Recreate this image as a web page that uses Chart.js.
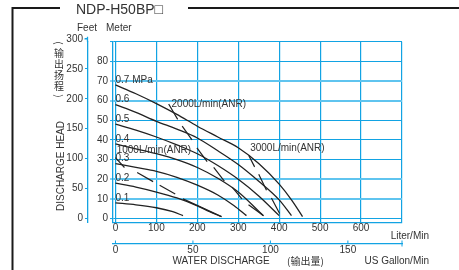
<!DOCTYPE html>
<html><head><meta charset="utf-8">
<script src="https://cdn.jsdelivr.net/npm/chart.js@4.4.1/dist/chart.umd.min.js"></script>
<style>html,body{margin:0;padding:0;background:#fff;}canvas{display:block}</style>
</head><body>
<canvas id="c" width="459" height="270"></canvas>
<script>
// ---- data (flow in L/min, head in m) ----
const pressureNames = ['0.7 MPa','0.6','0.5','0.4','0.3','0.2','0.1'];
const curve07 = [[0,68],[50,63.5],[100,58.5],[150,53],[200,47],[250,41.5],[300,36],[350,28],[400,17.5],[430,9.5],[457,1]];
const curve06 = [[0,58],[50,54],[100,49.5],[150,45.5],[200,41],[250,34.5],[300,27.5],[350,19],[400,9.5],[430,1.5]];
const curve05 = [[0,48],[50,45],[100,41.5],[150,37.5],[200,33],[250,27],[300,20],[350,11.5],[400,1.5]];
const curve04 = [[0,38],[50,35.5],[100,33],[150,30],[200,26],[250,20.5],[300,13.5],[361,1.5]];
const curve03 = [[0,28],[50,26],[100,24],[150,21],[200,17],[250,12],[290,6.5],[320,1.5]];
const curve02 = [[0,18],[50,16],[100,13.5],[150,10.5],[200,6.5],[230,3.5],[259,1]];
const curve01 = [[0,8],[50,7],[100,5.5],[140,3.5],[165,1.5]];
const airNames = ['1000L/min(ANR)','2000L/min(ANR)','3000L/min(ANR)'];
const air1000 = [[0,31],[22,26],null,[53,23.4],[92,18.8],null,[108,17],[146,12.5],null,[165,10],[259,1]];
const air2000 = [[130,58.3],[152,50.5],null,[163,47],[187,40],null,[199,36],[224,29],null,[240,26],[266,19],null,[285,16],[309,10],null,[325,7],[362,1.4]];
const air3000 = [[326,32],[340,26.3],null,[350,22.5],[369,14.4],null,[381,10.5],[401,2.6]];
const literTicks = [0,100,200,300,400,500,600,700];
const literLabels = ['0','100','200','300','400','500','600',''];
const meterTicks = [0,10,20,30,40,50,60,70,80,90];
const meterLabels = ['0','10','20','30','40','50','60','70','80',''];
const feetTicks = [0,50,100,150,200,250,300];
const gallonTicks = [0,50,100,150];

// ---- chart ----
const M2FT = 3.28084, GAL = 3.78541;
const XMIN = -6, XMAX = 700, YMIN = -2, YMAX = 90;
const BLUE = '#12a3e3', PALE = '#5fc4ef', INK = '#222', TXT = '#333';
const FONT = '"Liberation Sans", Arial, sans-serif';

function toXY(arr){
  const out=[]; let last=0;
  arr.forEach(p=>{ if(p===null){ out.push({x:last,y:null}); } else { out.push({x:p[0],y:p[1]}); last=p[0]; } });
  return out;
}
const curves=[curve07,curve06,curve05,curve04,curve03,curve02,curve01];
const airs=[air1000,air2000,air3000];
const datasets=[];
curves.forEach((c,i)=>datasets.push({label:pressureNames[i],data:toXY(c),borderColor:INK,borderWidth:1.3,pointRadius:0,cubicInterpolationMode:'monotone',fill:false}));
airs.forEach((c,i)=>datasets.push({label:airNames[i],data:toXY(c),borderColor:INK,borderWidth:1.2,pointRadius:0,tension:0,spanGaps:false,fill:false}));

function setTicks(list){ return s=>{ s.ticks = list.map(v=>({value:v})); }; }

const deco = {
  id:'deco',
  afterDraw(chart){
    const ctx=chart.ctx, xs=chart.scales.x, ys=chart.scales.y, yf=chart.scales.yf, xg=chart.scales.xg;
    ctx.save();
    // frame
    ctx.strokeStyle='#1a1a1a'; ctx.lineWidth=2;
    ctx.beginPath(); ctx.moveTo(12.5,270); ctx.lineTo(12.5,8); ctx.lineTo(60,8); ctx.stroke();
    ctx.beginPath(); ctx.moveTo(188,8); ctx.lineTo(459,8); ctx.stroke();
    // title
    ctx.fillStyle=TXT; ctx.textBaseline='middle'; ctx.textAlign='left';
    ctx.font='14px '+FONT; ctx.fillText('NDP-H50BP\u25A1',76,10);
    // axis unit labels
    ctx.font='10px '+FONT;
    ctx.fillText('Feet',77,28.5);
    ctx.fillText('Meter',106,28.5);
    ctx.textAlign='right';
    ctx.fillText('Liter/Min',429,236);
    ctx.fillText('US Gallon/Min',429,261);
    ctx.textAlign='left';
    ctx.fillText('WATER DISCHARGE',172.5,261);
    ctx.font='10px "Noto Sans CJK SC", '+FONT;
    ctx.fillText('(\u8F93\u51FA\u91CF)',287,261);
    // vertical titles
    ctx.save(); ctx.translate(61,166); ctx.rotate(-Math.PI/2);
    ctx.textAlign='center'; ctx.font='10px '+FONT; ctx.fillText('DISCHARGE HEAD',0,0); ctx.restore();
    ctx.textAlign='center'; ctx.font='10px "Noto Sans CJK SC", sans-serif';
    ['\u8F93','\u51FA','\u626C','\u7A0B'].forEach((ch,i)=>ctx.fillText(ch,59,53+i*11));
    [['(',43],[')',96]].forEach(([ch,y])=>{ctx.save();ctx.translate(59,y);ctx.rotate(Math.PI/2);ctx.fillText(ch,0,0);ctx.restore();});
    // feet axis extension to 300 ft
    ctx.strokeStyle=BLUE; ctx.lineWidth=1.3;
    const fx=Math.round(yf.right)-0.5, f300=yf.getPixelForValue(300);
    ctx.beginPath(); ctx.moveTo(fx,yf.top); ctx.lineTo(fx,f300-2); ctx.moveTo(fx-3,f300); ctx.lineTo(fx,f300); ctx.stroke();
    // gallon ticks (inward)
    ctx.lineWidth=1;
    gallonTicks.forEach(v=>{const px=xg.getPixelForValue(v); ctx.beginPath(); ctx.moveTo(px,xg.top); ctx.lineTo(px,xg.top-3); ctx.stroke();});
    ctx.beginPath(); ctx.moveTo(xg.right,xg.top-3); ctx.lineTo(xg.right,xg.top+3); ctx.stroke();
    // curve labels
    ctx.fillStyle=TXT; ctx.textAlign='left'; ctx.font='10px '+FONT;
    const heads=[70.5,60.5,50.5,40.5,30.8,20.5,10.5];
    pressureNames.forEach((t,i)=>ctx.fillText(t,xs.getPixelForValue(0),ys.getPixelForValue(heads[i])));
    const airAt=[[3,35],[137,58.4],[329,35.7]];
    airNames.forEach((t,i)=>ctx.fillText(t,xs.getPixelForValue(airAt[i][0]),ys.getPixelForValue(airAt[i][1])));
    ctx.restore();
  }
};

new Chart(document.getElementById('c'),{
  type:'line',
  data:{datasets},
  options:{
    responsive:false, animation:false, devicePixelRatio:1,
    layout:{padding:{left:60,right:57,top:41.7,bottom:6.5}},
    plugins:{legend:{display:false},tooltip:{enabled:false}},
    scales:{
      x:{type:'linear',position:'bottom',min:XMIN,max:XMAX,weight:0,
        afterBuildTicks:setTicks(literTicks),
        afterFit:s=>{s.height=21;},
        grid:{color:BLUE,lineWidth:1.2,drawTicks:false},
        border:{color:BLUE,width:1.3},
        ticks:{padding:0,color:TXT,font:{size:10,family:FONT},maxRotation:0,autoSkip:false,
          callback:(v,i)=>literLabels[literTicks.indexOf(v)] ?? ''}
      },
      xg:{type:'linear',position:'bottom',min:XMIN/GAL,max:XMAX/GAL,weight:1,
        afterBuildTicks:setTicks(gallonTicks),
        afterFit:s=>{s.height=20;},
        grid:{display:true,drawOnChartArea:false,drawTicks:false},
        border:{color:BLUE,width:1.3},
        ticks:{padding:1,color:TXT,font:{size:10,family:FONT},maxRotation:0,autoSkip:false,callback:v=>String(v)}
      },
      y:{type:'linear',position:'left',min:YMIN,max:YMAX,weight:0,
        afterBuildTicks:setTicks(meterTicks),
        afterFit:s=>{s.width=25;},
        grid:{
          color:c=>([10,20,60,70].includes(c.tick&&c.tick.value)?PALE:BLUE),
          lineWidth:c=>([10,20,60,70].includes(c.tick&&c.tick.value)?2:1.1),
          tickLength:3,tickColor:BLUE,tickWidth:1
        },
        border:{color:BLUE,width:1.3},
        ticks:{padding:2,color:TXT,font:{size:10,family:FONT},autoSkip:false,
          callback:v=>meterLabels[meterTicks.indexOf(v)] ?? ''}
      },
      yf:{type:'linear',position:'left',min:YMIN*M2FT,max:YMAX*M2FT,weight:1,
        afterBuildTicks:setTicks(feetTicks),
        afterFit:s=>{s.width=28;},
        grid:{drawOnChartArea:false,tickLength:3,color:BLUE,tickWidth:1},
        border:{color:BLUE,width:1.3},
        ticks:{padding:2,color:TXT,font:{size:10,family:FONT},autoSkip:false,callback:v=>String(v)}
      }
    }
  },
  plugins:[deco]
});
</script>
</body></html>
